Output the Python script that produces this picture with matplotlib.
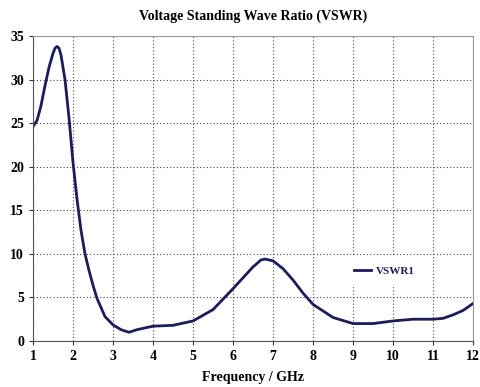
import matplotlib
matplotlib.use('Agg')
import matplotlib.pyplot as plt

# frequency (GHz) and VSWR values
freq = [1.0, 1.1, 1.2, 1.3, 1.4, 1.5, 1.55, 1.6, 1.65, 1.7, 1.8, 1.9, 2.0, 2.1, 2.2, 2.3, 2.4,
        2.5, 2.6, 2.8, 3.0, 3.2, 3.4, 3.6, 3.8, 4.0, 4.5, 5.0, 5.5, 6.0, 6.5, 6.7, 6.8,
        7.0, 7.25, 7.5, 7.75, 8.0, 8.5, 9.0, 9.5, 10.0, 10.5, 11.0, 11.25, 11.5, 11.75, 12.0]
vswr = [24.6, 25.3, 27.0, 29.3, 31.4, 33.0, 33.6, 33.8, 33.6, 32.8, 30.0, 25.6, 20.5, 16.3, 12.7, 10.0, 8.1,
        6.4, 4.9, 2.8, 1.85, 1.3, 1.0, 1.3, 1.5, 1.7, 1.8, 2.3, 3.6, 6.0, 8.5, 9.3, 9.4,
        9.2, 8.3, 7.0, 5.5, 4.2, 2.7, 2.0, 2.0, 2.3, 2.5, 2.5, 2.6, 3.0, 3.5, 4.3]

xticks = list(range(1, 13))
yticks = [0, 5, 10, 15, 20, 25, 30, 35]

plt.rcParams['font.family'] = 'Liberation Serif'
plt.rcParams['font.weight'] = 'bold'

fig = plt.figure(figsize=(4.81, 3.87), dpi=100)
ax = fig.add_axes([33 / 481, 1 - 341 / 387, 440 / 481, 305 / 387])

ax.plot(freq, vswr, color='#1c1c5a', linewidth=2, label='VSWR1')

ax.set_xlim(1, 12)
ax.set_ylim(0, 35)
ax.set_xticks(xticks)
ax.set_yticks(yticks)
ax.tick_params(labelsize=10, length=3, width=0.8, colors='#333333', labelcolor='black')
ax.grid(True, linestyle=(0, (1, 2)), color='#444444', linewidth=0.8)

for side in ['left', 'bottom']:
    ax.spines[side].set_color('#555555')
for side in ['top', 'right']:
    ax.spines[side].set_color('#999999')

ax.set_title('Voltage Standing Wave Ratio (VSWR)', fontsize=10, fontweight='bold', pad=12)
ax.set_xlabel('Frequency / GHz', fontsize=10, fontweight='bold', labelpad=6)

leg = ax.legend(loc='center left', bbox_to_anchor=(0.695, 0.23), frameon=True,
                fontsize=8, handlelength=1.5, handletextpad=0.4, borderpad=0.9)
leg.get_frame().set_edgecolor('white')
leg.get_frame().set_facecolor('white')
leg.get_frame().set_alpha(1)
for t in leg.get_texts():
    t.set_color('#1c1c5a')

fig.savefig('out.png', dpi=100)
